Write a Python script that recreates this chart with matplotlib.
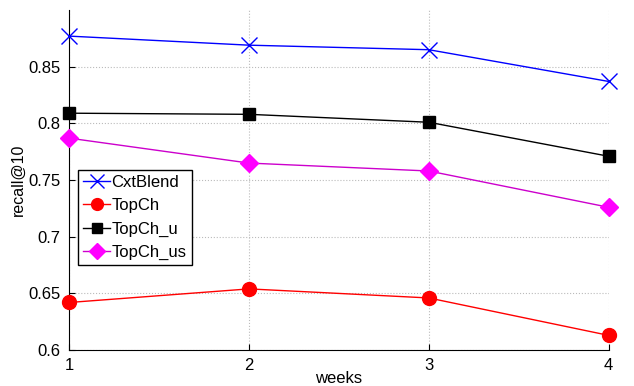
import matplotlib
matplotlib.use('Agg')
import matplotlib.pyplot as plt
from matplotlib.ticker import FuncFormatter

plt.rcParams['font.family'] = ['Liberation Sans', 'DejaVu Sans']

weeks = [1, 2, 3, 4]
cxtblend = [0.877, 0.869, 0.865, 0.837]
topch = [0.642, 0.654, 0.646, 0.613]
topch_u = [0.809, 0.808, 0.801, 0.771]
topch_us = [0.787, 0.765, 0.758, 0.726]
yticks = [0.6, 0.65, 0.7, 0.75, 0.8, 0.85]

fig = plt.figure(figsize=(6.34, 3.86), dpi=100)
ax = fig.add_axes([0.109, 0.093, 0.851, 0.881])

ax.plot(weeks, cxtblend, color='#0000ff', marker='x', markersize=12, mew=1.0, lw=1.0, label='CxtBlend', clip_on=False, zorder=3)
ax.plot(weeks, topch, color='#ff0000', marker='o', markersize=10, lw=1.0, label='TopCh', clip_on=False, zorder=3)
ax.plot(weeks, topch_u, color='black', marker='s', markersize=8, lw=1.0, label='TopCh_u', clip_on=False, zorder=3)
ax.plot(weeks, topch_us, color='#cc00cc', marker='D', markersize=9, mfc='#ff00ff', mec='#ff00ff', lw=1.0, label='TopCh_us', clip_on=False, zorder=3)

ax.set_xlim(1, 4)
ax.set_ylim(0.6, 0.9)
ax.set_xticks(weeks)
ax.set_yticks(yticks)
ax.yaxis.set_major_formatter(FuncFormatter(lambda v, p: '%g' % v))
ax.tick_params(direction='in', labelsize=12, length=4, pad=6)

for s in ['top', 'right']:
    ax.spines[s].set_visible(False)
ax.grid(True, linestyle=':', color='#bbbbbb', lw=0.8)

ax.set_xlabel('weeks', fontsize=12, labelpad=-2)
ax.set_ylabel('recall@10', fontsize=11.5, labelpad=2)

leg = ax.legend(loc='upper left', bbox_to_anchor=(0.017, 0.53), fontsize=12, fancybox=False,
                edgecolor='black', framealpha=1, handlelength=1.6, handletextpad=0.1,
                borderpad=0.3, labelspacing=0.5, borderaxespad=0, markerscale=0.85)
leg.get_frame().set_linewidth(1.0)

fig.savefig('out.png', dpi=100)
